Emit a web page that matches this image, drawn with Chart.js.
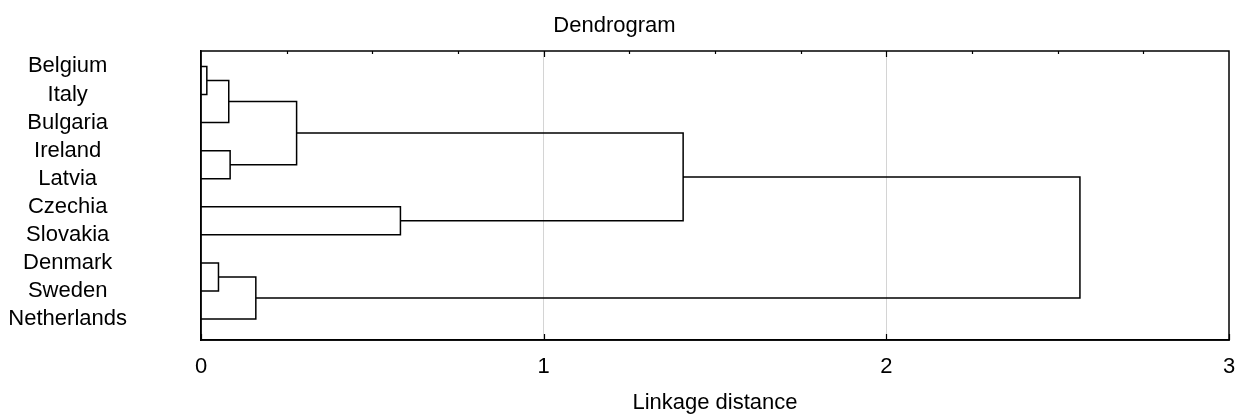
<!DOCTYPE html>
<html>
<head>
<meta charset="utf-8">
<script src="https://cdn.jsdelivr.net/npm/chart.js@4.4.1/dist/chart.umd.min.js"></script>
<style>
  html, body { margin: 0; padding: 0; background: #fff; }
  #wrap { width: 1236px; height: 414px; }
</style>
</head>
<body>
<div id="wrap"><canvas id="dendro"></canvas></div>
<script>
// leaf order, top to bottom
let countries = ["Belgium", "Italy", "Bulgaria", "Ireland", "Latvia",
                 "Czechia", "Slovakia", "Denmark", "Sweden", "Netherlands"];

// linkage: clusters 0-9 are the leaves, merge k makes cluster 10 + k
let mergeLeft  = [0, 10, 3, 7, 13, 11, 5, 15, 17];
let mergeRight = [1, 2, 4, 8, 9, 12, 6, 16, 14];
let mergeDist  = [0.017, 0.081, 0.085, 0.051, 0.160, 0.279, 0.582, 1.407, 2.565];

let xTicks = [0, 1, 2, 3];

// walk the linkage and build the U shaped links
let nodeY = countries.map((c, i) => i);
let nodeX = countries.map(() => 0);
let linkPts = [];
mergeDist.forEach((d, k) => {
  let a = mergeLeft[k], b = mergeRight[k];
  linkPts.push({x: nodeX[a], y: nodeY[a]}, {x: d, y: nodeY[a]},
               {x: d, y: nodeY[b]}, {x: nodeX[b], y: nodeY[b]},
               {x: d, y: null});
  nodeY.push((nodeY[a] + nodeY[b]) / 2);
  nodeX.push(d);
});

const txtFont = {family: "'Liberation Sans', Arial, sans-serif", size: 22, weight: 'normal'};

// box round the plot plus the small inward ticks
const framePlugin = {
  id: 'frame',
  afterDatasetsDraw(chart) {
    const {ctx, chartArea: a, scales: {x}} = chart;
    ctx.save();
    ctx.strokeStyle = '#000';
    ctx.lineWidth = 1.5;
    ctx.strokeRect(a.left, a.top, a.right - a.left, a.bottom - a.top);
    ctx.lineWidth = 1.2;
    ctx.beginPath();
    for (let v = 0.25; v < 3; v += 0.25) {
      let px = Math.round(x.getPixelForValue(v)) + 0.5;
      let len = Number.isInteger(v) ? 6 : 3;
      ctx.moveTo(px, a.top);
      ctx.lineTo(px, a.top + len);
    }
    xTicks.forEach(v => {
      let px = Math.round(x.getPixelForValue(v)) + 0.5;
      ctx.moveTo(px, a.bottom);
      ctx.lineTo(px, a.bottom - 6);
    });
    ctx.stroke();
    ctx.restore();
  }
};

let dendro = document.getElementById('dendro').getContext('2d');
let newChart = new Chart(dendro, {
  type: 'scatter',
  data: {
    datasets: [{
      data: linkPts,
      showLine: true,
      spanGaps: false,
      borderColor: '#000',
      borderWidth: 1.5,
      pointRadius: 0,
      fill: false,
      tension: 0
    }]
  },
  plugins: [framePlugin],
  options: {
    responsive: true,
    maintainAspectRatio: false,
    animation: false,
    layout: {
      padding: {top: 0, left: 0, right: 7, bottom: 0}
    },
    plugins: {
      legend: { display: false },
      tooltip: { enabled: false },
      title: {
        display: true,
        text: 'Dendrogram',
        color: '#000',
        font: txtFont,
        padding: {top: 13, bottom: 11.6}
      }
    },
    scales: {
      x: {
        type: 'linear',
        min: 0,
        max: 3,
        afterBuildTicks: axis => { axis.ticks = xTicks.map(v => ({value: v})); },
        afterFit: axis => { axis.paddingLeft = 0; axis.paddingRight = 0; },
        ticks: { color: '#000', font: txtFont, padding: 14, maxRotation: 0 },
        grid: {
          drawTicks: false,
          color: ctx => (ctx.tick && ctx.tick.value > 0 && ctx.tick.value < 3) ? '#d4d4d4' : 'rgba(0,0,0,0)'
        },
        border: { display: true, color: '#000', width: 1.5 },
        title: {
          display: true,
          text: 'Linkage distance',
          color: '#000',
          font: {family: txtFont.family, size: 22, weight: 'normal', lineHeight: 1.0},
          padding: {top: -2.5, bottom: 0}
        }
      },
      y: {
        type: 'linear',
        reverse: true,
        min: -0.55,
        max: 9.75,
        afterBuildTicks: axis => { axis.ticks = countries.map((c, i) => ({value: i})); },
        afterFit: axis => { axis.width = 201; axis.paddingTop = 0; axis.paddingBottom = 0; },
        ticks: {
          callback: v => countries[v],
          crossAlign: 'center',
          padding: 74,
          autoSkip: false,
          color: '#000',
          font: txtFont
        },
        grid: { display: false, drawTicks: false },
        border: { display: true, color: '#000', width: 1.5 }
      }
    }
  }
});
</script>
</body>
</html>
